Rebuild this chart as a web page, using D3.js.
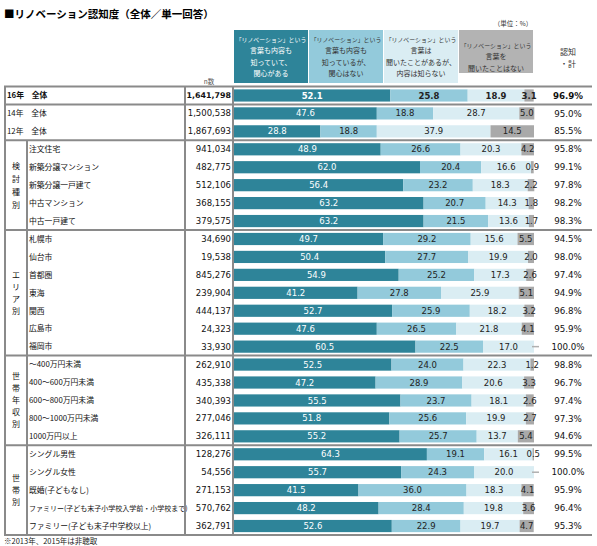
<!DOCTYPE html>
<html>
<head>
<meta charset="utf-8">
<script src="https://cdn.jsdelivr.net/npm/d3@7"></script>
<style>
  body { margin: 0; background: #fff; }
</style>
</head>
<body>
<div id="chart"></div>
<script>
// row labels, n counts and the four answer shares (%)
var categories = ["16年　全体", "14年　全体", "12年　全体",
  "注文住宅", "新築分譲マンション", "新築分譲一戸建て", "中古マンション", "中古一戸建て",
  "札幌市", "仙台市", "首都圏", "東海", "関西", "広島市", "福岡市",
  "～400万円未満", "400～600万円未満", "600～800万円未満", "800～1000万円未満", "1000万円以上",
  "シングル男性", "シングル女性", "既婚(子どもなし)",
  "ファミリー(子ども末子小学校入学前・小学校まで)", "ファミリー(子ども末子中学校以上)"];
var nCounts = ["1,641,798", "1,500,538", "1,867,693",
  "941,034", "482,775", "512,106", "368,155", "379,575",
  "34,690", "19,538", "845,276", "239,904", "444,137", "24,323", "33,930",
  "262,910", "435,338", "340,393", "277,046", "326,111",
  "128,276", "54,556", "271,153", "570,762", "362,791"];
var knowInterested = [52.1, 47.6, 28.8, 48.9, 62.0, 56.4, 63.2, 63.2,
  49.7, 50.4, 54.9, 41.2, 52.7, 47.6, 60.5, 52.5, 47.2, 55.5, 51.8, 55.2,
  64.3, 55.7, 41.5, 48.2, 52.6];
var knowNotInterested = [25.8, 18.8, 18.8, 26.6, 20.4, 23.2, 20.7, 21.5,
  29.2, 27.7, 25.2, 27.8, 25.9, 26.5, 22.5, 24.0, 28.9, 23.7, 25.6, 25.7,
  19.1, 24.3, 36.0, 28.4, 22.9];
var heardOnly = [18.9, 28.7, 37.9, 20.3, 16.6, 18.3, 14.3, 13.6,
  15.6, 19.9, 17.3, 25.9, 18.2, 21.8, 17.0, 22.3, 20.6, 18.1, 19.9, 13.7,
  16.1, 20.0, 18.3, 19.8, 19.7];
var neverHeard = [3.1, 5.0, 14.5, 4.2, 0.9, 2.2, 1.8, 1.7,
  5.5, 2.0, 2.6, 5.1, 3.2, 4.1, 0, 1.2, 3.3, 2.6, 2.7, 5.4,
  0.5, 0, 4.1, 3.6, 4.7];
var totals = ["96.9%", "95.0%", "85.5%", "95.8%", "99.1%", "97.8%", "98.2%", "98.3%",
  "94.5%", "98.0%", "97.4%", "94.9%", "96.8%", "95.9%", "100.0%",
  "98.8%", "96.7%", "97.4%", "97.3%", "94.6%",
  "99.5%", "100.0%", "95.9%", "96.4%", "95.3%"];

var headers = [
  ["「リノベーション」という", "言葉も内容も", "知っていて、", "関心がある"],
  ["「リノベーション」という", "言葉も内容も", "知っているが、", "関心はない"],
  ["「リノベーション」という", "言葉は", "聞いたことがあるが、", "内容は知らない"],
  ["「リノベーション」という", "言葉を", "聞いたことはない"]
];
var groupNames = ["検討種別", "エリア別", "世帯年収別", "世帯別"];
var groupStart = [3, 8, 15, 20];
var groupEnd = [7, 14, 19, 24];
var separatorsAfter = [0, 2, 7, 14, 19, 24];

var colors = ["#2e8499", "#93cadb", "#daedf3", "#a9a9a9"];
var jp = "'Noto Sans CJK JP', sans-serif";
var num = "'DejaVu Sans', Verdana, sans-serif";

var width = 597, height = 546;
var svg = d3.select("#chart").append("svg")
    .attr("width", width)
    .attr("height", height);

var keys = ["a", "b", "c", "d"];
var data = categories.map(function(c, i) {
  return {i: String(i), a: knowInterested[i], b: knowNotInterested[i], c: heardOnly[i], d: neverHeard[i]};
});
var series = d3.stack().keys(keys)(data);

var x = d3.scaleLinear().domain([0, 100]).range([234, 534]);
var y = d3.scaleBand()
    .domain(data.map(function(d) { return d.i; }))
    .range([86.5, 535])
    .paddingInner(0.32)
    .paddingOuter(0.16);
var mid = function(i) { return y(String(i)) + y.bandwidth() / 2; };
var boundary = function(i) { return mid(i) + y.step() / 2; };

// title
svg.append("text")
    .attr("x", 4).attr("y", 18)
    .style("font-family", jp).style("font-size", "10.5px").style("font-weight", "bold")
    .text("■リノベーション認知度（全体／単一回答）");

// header boxes
var colW = (x(100) - x(0)) / 4;
headers.forEach(function(lines, k) {
  var bx = x(0) + colW * k;
  var bh = k === 3 ? 43 : 53;
  svg.append("rect")
      .attr("x", bx).attr("y", 30)
      .attr("width", colW - 1).attr("height", bh)
      .attr("fill", k === 3 ? "#b3b3b3" : colors[k]);
  var y0 = k === 3 ? 47.5 : 41.5;
  lines.forEach(function(l, j) {
    svg.append("text")
        .attr("x", bx + colW / 2 - 0.5).attr("y", y0 + j * 11.5)
        .attr("text-anchor", "middle")
        .style("font-family", jp).style("font-size", l.length > 10 ? "5.9px" : "7px")
        .attr("fill", k === 0 ? "#fff" : "#333")
        .text(l);
  });
});

svg.append("text").attr("x", 513).attr("y", 26).attr("text-anchor", "middle")
    .style("font-family", jp).style("font-size", "6.5px").attr("fill", "#333")
    .text("（単位：%）");
svg.append("text").attr("x", 568).attr("y", 55).attr("text-anchor", "middle")
    .style("font-family", jp).style("font-size", "8px").attr("fill", "#333").text("認知");
svg.append("text").attr("x", 568).attr("y", 67).attr("text-anchor", "middle")
    .style("font-family", jp).style("font-size", "8px").attr("fill", "#333").text("・計");
svg.append("text").attr("x", 209).attr("y", 84).attr("text-anchor", "middle")
    .style("font-family", jp).style("font-size", "6.5px").attr("fill", "#555").text("n数");

// bars
var layer = svg.selectAll(".layer")
    .data(series)
  .enter().append("g")
    .attr("class", "layer")
    .attr("fill", function(d, k) { return colors[k]; });

layer.selectAll("rect")
    .data(function(d) { return d; })
  .enter().append("rect")
    .attr("x", function(d) { return x(d[0]); })
    .attr("width", function(d) { return x(d[1]) - x(d[0]); })
    .attr("y", function(d) { return y(d.data.i); })
    .attr("height", y.bandwidth());

// value labels
series.forEach(function(s, k) {
  s.forEach(function(d, i) {
    var v = d[1] - d[0];
    if (v === 0) {
      svg.append("rect")
          .attr("x", x(100) - 2).attr("y", mid(i) - 0.75)
          .attr("width", 7).attr("height", 1.5)
          .attr("fill", "#b0b0b0");
      return;
    }
    svg.append("text")
        .attr("x", x((d[0] + d[1]) / 2))
        .attr("y", mid(i)).attr("dy", "0.36em")
        .attr("text-anchor", "middle")
        .style("font-family", num).style("font-size", "8.5px")
        .style("font-weight", i === 0 ? "bold" : "normal")
        .attr("fill", k === 0 ? "#fff" : "#222")
        .text(v.toFixed(1));
  });
});

// row labels, n counts, totals
data.forEach(function(d, i) {
  var inGroup = i >= 3;
  svg.append("text")
      .attr("x", inGroup ? 29 : 7).attr("y", mid(i)).attr("dy", "0.36em")
      .style("font-family", jp).style("font-size", i === 23 ? "7px" : "7.8px")
      .style("font-weight", i === 0 ? "bold" : "normal")
      .attr("fill", "#111")
      .text(categories[i]);
  svg.append("text")
      .attr("x", 231).attr("y", mid(i)).attr("dy", "0.36em")
      .attr("text-anchor", "end")
      .style("font-family", num).style("font-size", i === 0 ? "7.9px" : "8.5px")
      .style("font-weight", i === 0 ? "bold" : "normal")
      .attr("fill", "#111")
      .text(nCounts[i]);
  svg.append("text")
      .attr("x", 568).attr("y", mid(i)).attr("dy", "0.36em")
      .attr("text-anchor", "middle")
      .style("font-family", num).style("font-size", "8.7px")
      .style("font-weight", i === 0 ? "bold" : "normal")
      .attr("fill", "#111")
      .text(totals[i]);
});

// group labels (vertical)
groupNames.forEach(function(g, k) {
  var top = boundary(groupStart[k] - 1), bottom = boundary(groupEnd[k]);
  var cy = (top + bottom) / 2;
  var chars = g.split("");
  var gap = k === 0 ? 13 : 12;
  chars.forEach(function(ch, j) {
    svg.append("text")
        .attr("x", 16).attr("y", cy + (j - (chars.length - 1) / 2) * gap).attr("dy", "0.36em")
        .attr("text-anchor", "middle")
        .style("font-family", jp).style("font-size", "8px")
        .attr("fill", "#111")
        .text(ch);
  });
  svg.append("line")
      .attr("x1", 27).attr("x2", 27).attr("y1", top).attr("y2", bottom)
      .attr("stroke", "#8a8a8a").attr("stroke-width", 2);
});

// table lines
var lineColor = "#8a8a8a";
var topY = y.range()[0], botY = boundary(24);
svg.append("line").attr("x1", 4).attr("x2", 592).attr("y1", topY).attr("y2", topY)
    .attr("stroke", lineColor).attr("stroke-width", 2);
separatorsAfter.forEach(function(i) {
  svg.append("line").attr("x1", 4).attr("x2", 592)
      .attr("y1", boundary(i)).attr("y2", boundary(i))
      .attr("stroke", lineColor).attr("stroke-width", 2);
});
[5, 185, 233].forEach(function(vx) {
  svg.append("line").attr("x1", vx).attr("x2", vx).attr("y1", topY).attr("y2", botY)
      .attr("stroke", lineColor).attr("stroke-width", 2);
});

// footnote
svg.append("text")
    .attr("x", 4).attr("y", 544)
    .style("font-family", jp).style("font-size", "7.5px").attr("fill", "#222")
    .text("※2013年、2015年は非聴取");
</script>
</body>
</html>
